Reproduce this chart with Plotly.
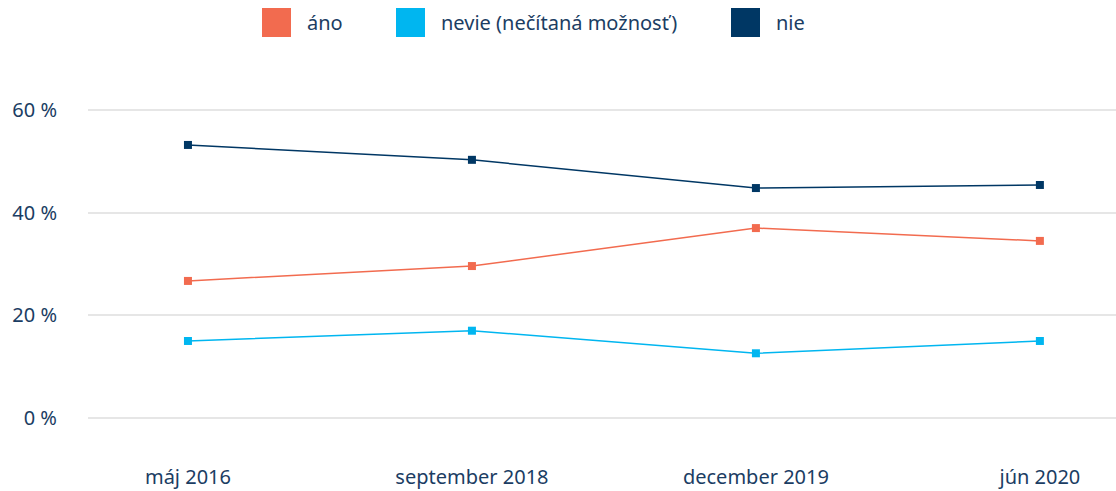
import plotly.graph_objects as go

# data
obdobia = ["máj 2016", "september 2018", "december 2019", "jún 2020"]
ano = [26.7, 29.6, 37.0, 34.5]
nevie = [15.0, 17.0, 12.6, 15.0]
nie = [53.2, 50.3, 44.8, 45.4]
y_ticks = [0, 20, 40, 60]

series = [
    ("áno", ano, "#F26B4F"),
    ("nevie (nečítaná možnosť)", nevie, "#00B6F0"),
    ("nie", nie, "#003764"),
]

TEXT = "#1B3D63"
FONT = "Noto Sans"
W, H = 1116, 491
M = dict(l=88, r=0, t=69, b=32)
PW = W - M["l"] - M["r"]
PH = H - M["t"] - M["b"]


def px_x(px):
    return (px - M["l"]) / PW


def px_y(py):
    return (H - M["b"] - py) / PH


fig = go.Figure()
for name, vals, color in series:
    fig.add_trace(go.Scatter(
        x=obdobia,
        y=vals,
        name=name,
        mode="lines+markers",
        line=dict(color=color, width=1.5),
        marker=dict(symbol="square", size=8, color=color),
        showlegend=False,
        hoverinfo="skip",
    ))

# legend drawn by hand: big squares + labels
legend_pos = [262, 396, 731]
for (name, _, color), lx in zip(series, legend_pos):
    fig.add_shape(
        type="rect", xref="paper", yref="paper",
        x0=px_x(lx), x1=px_x(lx + 29), y0=px_y(37), y1=px_y(8),
        fillcolor=color, line_width=0,
    )
    fig.add_annotation(
        text=name, xref="paper", yref="paper",
        x=px_x(lx + 43), y=px_y(23),
        xanchor="left", yanchor="middle", showarrow=False,
        font=dict(size=20, color=TEXT),
    )

fig.update_layout(
    width=W,
    height=H,
    paper_bgcolor="white",
    plot_bgcolor="white",
    font=dict(family=FONT, size=20, color=TEXT),
    margin=M,
    showlegend=False,
    xaxis=dict(
        range=[-0.352, 3.268],
        showgrid=False,
        zeroline=False,
        showline=False,
        ticks="",
        ticklabelstandoff=4,
    ),
    yaxis=dict(
        range=[-8, 68],
        tickvals=y_ticks,
        ticktext=[f"{v} %" for v in y_ticks],
        showgrid=True,
        gridcolor="#E6E6E6",
        gridwidth=2,
        zeroline=False,
        showline=False,
        ticks="",
        ticklabelstandoff=30,
    ),
)

fig.write_html(
    "out.html",
    config={"displayModeBar": False},
    post_script="document.body.style.margin='0';",
)
